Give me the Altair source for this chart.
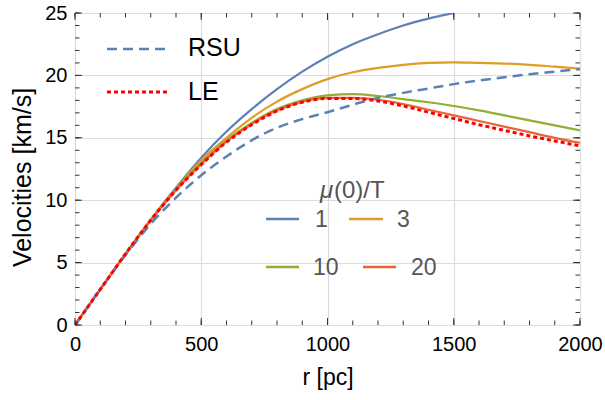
import altair as alt
import pandas as pd

# ---------------- data ----------------
r = [0, 100, 200, 300, 400, 500, 600, 700, 800, 900, 1000,
     1100, 1200, 1300, 1400, 1500, 1600, 1700, 1800, 1900, 2000]

v_mu1 = [0, 2.85, 5.7, 8.45, 11.0, 13.4, 15.5, 17.3, 18.9, 20.3, 21.5,
         22.5, 23.3, 24.0, 24.55, 25.0]
v_mu3 = [0, 2.85, 5.7, 8.4, 10.9, 13.2, 15.0, 16.6, 17.9, 18.9, 19.7,
         20.25, 20.6, 20.85, 21.0, 21.05, 21.0, 20.95, 20.85, 20.7, 20.55]
v_mu10 = [0, 2.85, 5.7, 8.4, 10.85, 13.0, 14.8, 16.2, 17.3, 18.0, 18.4,
          18.5, 18.35, 18.1, 17.85, 17.55, 17.2, 16.8, 16.4, 16.0, 15.6]
v_mu20 = [0, 2.85, 5.7, 8.4, 10.8, 12.9, 14.7, 16.1, 17.2, 17.9, 18.2,
          18.2, 18.05, 17.7, 17.25, 16.8, 16.35, 15.9, 15.45, 15.0, 14.6]
v_le = [0, 2.85, 5.7, 8.4, 10.8, 12.85, 14.65, 16.05, 17.15, 17.85, 18.15,
        18.15, 17.95, 17.55, 17.05, 16.55, 16.05, 15.6, 15.15, 14.75, 14.35]
v_rsu = [0, 2.85, 5.6, 8.1, 10.2, 12.0, 13.5, 14.8, 15.8, 16.5, 17.05,
         17.65, 18.2, 18.6, 18.95, 19.3, 19.6, 19.85, 20.1, 20.3, 20.5]

mu_labels = ["1", "3", "10", "20"]
style_labels = ["RSU", "LE"]
legend_title_mu = "μ"
legend_title_rest = "(0)/T"

x_ticks = [0, 500, 1000, 1500, 2000]
y_ticks = [0, 5, 10, 15, 20, 25]
x_minor = list(range(0, 2001, 100))
y_minor = list(range(0, 26))

# ---------------- styling ----------------
W, H = 505, 312
FONT = "Liberation Sans"
FRAME = "#333333"
BLUE, ORANGE, GREEN, RED = "#5E81B5", "#E19C24", "#8FB032", "#EB6235"

xs = alt.Scale(domain=[0, 2000], nice=False, zero=False)
ys = alt.Scale(domain=[0, 25], nice=False, zero=False)

x_axis = alt.Axis(values=x_ticks, format="d", title="r [pc]", grid=True,
                  ticks=False, domain=False, labelFontSize=20, labelPadding=9,
                  labelFlush=False, labelOverlap=False,
                  labelFont=FONT, labelColor="black",
                  titleFont=FONT, titleFontSize=23, titleFontWeight="normal",
                  titleColor="black", titleX=W / 2, titleY=52,
                  titleAlign="center", titleBaseline="middle")
y_axis = alt.Axis(values=y_ticks, format="d", title="Velocities [km/s]",
                  grid=True, ticks=False, domain=False, labelFontSize=20,
                  labelPadding=8, labelFlush=False, labelOverlap=False,
                  labelFont=FONT, labelColor="black",
                  titleFont=FONT, titleFontSize=25, titleFontWeight="normal",
                  titleColor="black", titleAngle=270, titleX=-53, titleY=164,
                  titleAlign="center", titleBaseline="middle")


def X(field):
    return alt.X(field, type="quantitative", scale=xs, axis=x_axis)


def Y(field):
    return alt.Y(field, type="quantitative", scale=ys, axis=y_axis)


def curve(vals, color, width, dash=None):
    df = pd.DataFrame({"r": r[:len(vals)], "v": vals})
    kw = dict(color=color, strokeWidth=width, interpolate="monotone", clip=True)
    if dash:
        kw["strokeDash"] = dash
        kw["strokeCap"] = "butt"
    return alt.Chart(df).mark_line(**kw).encode(x=X("r"), y=Y("v"))


one = pd.DataFrame({"a": [0]})


def seg(x1, x2, y, color, width, dash=None):
    kw = dict(color=color, strokeWidth=width)
    if dash:
        kw["strokeDash"] = dash
        kw["strokeCap"] = "butt"
    return alt.Chart(one).mark_rule(**kw).encode(
        x=alt.value(x1), x2=alt.value(x2), y=alt.value(y))


def label(txt, x, y, size, color, italic=False):
    kw = dict(text=txt, font=FONT, fontSize=size, color=color,
              align="left", baseline="middle")
    if italic:
        kw["fontStyle"] = "italic"
    return alt.Chart(one).mark_text(**kw).encode(x=alt.value(x), y=alt.value(y))


def xticks(vals, length):
    df = pd.DataFrame({"t": vals})
    b = alt.Chart(df).mark_rule(color=FRAME, strokeWidth=1)
    return [b.encode(x=X("t"), y=alt.value(H), y2=alt.value(H - length)),
            b.encode(x=X("t"), y=alt.value(0), y2=alt.value(length))]


def yticks(vals, length):
    df = pd.DataFrame({"t": vals})
    b = alt.Chart(df).mark_rule(color=FRAME, strokeWidth=1)
    return [b.encode(y=Y("t"), x=alt.value(0), x2=alt.value(length)),
            b.encode(y=Y("t"), x=alt.value(W), x2=alt.value(W - length))]


layers = []
layers += [curve(v_mu1, BLUE, 2.2), curve(v_mu3, ORANGE, 2.2),
           curve(v_mu10, GREEN, 2.2), curve(v_mu20, RED, 2.2),
           curve(v_rsu, BLUE, 2.5, [10, 6]), curve(v_le, "#FF0000", 3, [4, 3])]
layers += xticks(x_minor, 4.5) + xticks(x_ticks, 7)
layers += yticks(y_minor, 4.5) + yticks(y_ticks, 7)

# legend: line styles
layers += [seg(32, 95, 36, BLUE, 2.5, [10, 6]),
           label(style_labels[0], 113, 35, 25, "black"),
           seg(32, 95, 79, "#FF0000", 3, [4, 3]),
           label(style_labels[1], 113, 79, 25, "black")]

# legend: mu(0)/T
GRAY = "#555555"
layers += [label(legend_title_mu, 245, 178, 24, GRAY, italic=True),
           label(legend_title_rest, 259, 178, 24, GRAY)]
mu_pos = [(191, 224, 240, 206, BLUE), (274, 308, 322, 206, ORANGE),
          (191, 224, 238, 254, GREEN), (288, 321, 336, 254, RED)]
for lab, (a, b, tx, yy, col) in zip(mu_labels, mu_pos):
    layers += [seg(a, b, yy, col, 2.5), label(lab, tx, yy + 1, 23, GRAY)]

chart = alt.layer(*layers).properties(
    width=W, height=H,
    autosize=alt.AutoSizeParams(type="none"),
    padding={"left": 75, "top": 13, "right": 25, "bottom": 75},
).configure_view(stroke=FRAME, strokeWidth=1).configure_axis(
    gridColor="#dcdcdc", gridWidth=1.2)

chart.save("out.html", embed_options={"renderer": "svg", "actions": False})
